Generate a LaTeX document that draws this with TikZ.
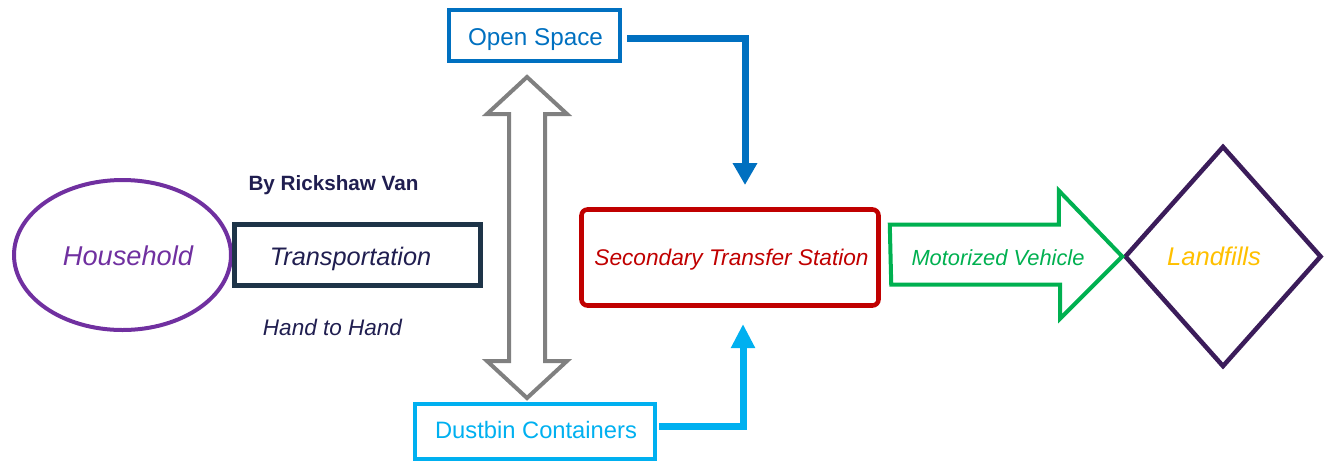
\documentclass[tikz,border=0pt]{standalone}
\usepackage{fontspec}
\setmainfont{Liberation Sans}
\usetikzlibrary{shapes.geometric,arrows.meta,calc}
\definecolor{hpurple}{HTML}{7030A0}
\definecolor{tnavy}{HTML}{1E3448}
\definecolor{tdark}{HTML}{201E50}
\definecolor{oblue}{HTML}{0070C0}
\definecolor{dcyan}{HTML}{00B0F0}
\definecolor{sred}{HTML}{C00000}
\definecolor{mgreen}{HTML}{00B050}
\definecolor{lpurple}{HTML}{3B1C5A}
\definecolor{lgold}{HTML}{FFC000}
\definecolor{agray}{HTML}{808080}
\newcommand\fsz[1]{\fontsize{#1}{#1}\selectfont}
\begin{document}
\begin{tikzpicture}[x=0.75pt,y=-0.75pt,
  txt/.style={anchor=base, inner sep=0pt},
  boxshape/.style={draw, rectangle, inner sep=0pt},
  flowline/.style={line width=5.25pt, line join=miter},
]
\useasboundingbox (0,0) rectangle (1327,462);
% shapes
\node[draw=hpurple, line width=3pt, ellipse, inner sep=0pt,
      minimum width=217*0.75pt, minimum height=150*0.75pt] (hh) at (122.5,255) {};
\node[boxshape, draw=tnavy, line width=3.75pt,
      minimum width=246*0.75pt, minimum height=61*0.75pt] (tr) at (357.5,255) {};
\node[boxshape, draw=oblue, line width=3pt,
      minimum width=171*0.75pt, minimum height=51*0.75pt] (os) at (534.5,35.5) {};
\node[boxshape, draw=dcyan, line width=3pt,
      minimum width=240*0.75pt, minimum height=55*0.75pt] (dc) at (535,431.5) {};
\node[boxshape, draw=sred, line width=3.4pt, rounded corners=4.5pt,
      minimum width=297*0.75pt, minimum height=96*0.75pt] (sts) at (730,257.5) {};
\node[draw=lpurple, line width=3.4pt, diamond, inner sep=0pt,
      minimum width=197*0.75pt, minimum height=221*0.75pt] (lf) at (1223,256.5) {};
% gray double block arrow between Open Space and Dustbin Containers
\draw[agray, line width=3pt, line join=miter]
  ($(os.south)+(-7.5,14)$) -- ++(40,37) -- ++(-22,0) -- ++(0,247) -- ++(22,0)
  -- ++(-40,37) -- ++(-40,-37) -- ++(22,0) -- ++(0,-247) -- ++(-22,0) -- cycle;
% green block arrow Secondary -> Landfills
\draw[mgreen, line width=3pt, line join=miter]
  ($(sts.east)+(9,-33)$) -- ++(169,0) -- ++(0,-34) -- (lf.west) -- ++(-62,62)
  -- ++(0,-34) -- ++(-169,0) -- cycle;
% connectors
\coordinate (osend) at (745,185);
\coordinate (dcend) at (743,324);
\draw[flowline, oblue, -{Triangle[length=16.5pt,width=17.5pt]}]
  ($(os.east)+(5,2.5)$) -| (osend);
\draw[flowline, dcyan, -{Triangle[length=18pt,width=17pt]}]
  ($(dc.east)+(2,-5.5)$) -| (dcend);
% texts
\node[txt, text=hpurple] (thh) at (128,265) {\fsz{20.4}\itshape Household};
\node[txt, text=tdark] (ttr) at (350.5,265) {\fsz{19}\itshape Transportation};
\node[txt, text=tdark] (trv) at (333.5,190) {\fsz{15.5}\bfseries By Rickshaw Van};
\node[txt, text=tdark] (thth) at (332.5,335) {\fsz{16.9}\itshape Hand to Hand};
\node[txt, text=oblue] (tos) at (535.5,45) {\fsz{18.2}Open Space};
\node[txt, text=dcyan] (tdc) at (536,438) {\fsz{17.8}Dustbin Containers};
\node[txt, text=sred] (tsts) at (731.5,265) {\fsz{17}\itshape Secondary Transfer Station};
\node[txt, text=mgreen] (tmv) at (998,265) {\fsz{16.4}\itshape Motorized Vehicle};
\node[txt, text=lgold] (tlf) at (1214,265) {\fsz{19.2}\itshape Landfills};
\end{tikzpicture}
\end{document}
